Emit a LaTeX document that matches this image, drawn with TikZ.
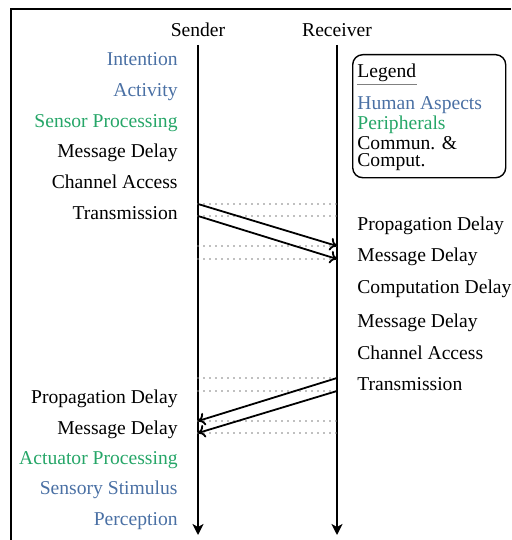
\documentclass[tikz,border=0pt]{standalone}
\usepackage{fontspec}
\setmainfont{Liberation Serif}
\usetikzlibrary{arrows.meta}
\definecolor{human}{RGB}{74,112,164}
\definecolor{periph}{RGB}{38,166,104}
\begin{document}
\begin{tikzpicture}[x=0.5pt,y=-0.5pt,
  every node/.style={font=\fontsize{9.8}{11.8}\selectfont, inner sep=0pt},
  lbl/.style={anchor=base east},
  rlbl/.style={anchor=base west},
  head/.style={anchor=base},
  life/.style={line width=1pt,-{Stealth[length=5.5pt,width=5.5pt,inset=1.5pt]}},
  msg/.style={line width=0.9pt,-{To[length=3.5pt,width=6.5pt]}},
  guide/.style={black!50,line width=0.9pt,line cap=round,dash pattern=on 0pt off 3pt},
  frame/.style={line width=0.7pt},
  legendbox/.style={draw,rounded corners=5pt,line width=0.7pt,anchor=north west,
    minimum width=76.5pt,minimum height=61.5pt},
]
\useasboundingbox (0,0) rectangle (511,540);
\draw[frame] (511,9) -- (11,9) -- (11,540);

% lifeline headers
\node[head] (sender) at (198,37) {Sender};
\node[head] (receiver) at (337,37) {Receiver};

% lifelines
\coordinate (s0) at (198,45);
\coordinate (s1) at (198,535);
\coordinate (r0) at (337,45);
\coordinate (r1) at (337,535);
\draw[life] (s0) -- (s1);
\draw[life] (r0) -- (r1);

% sender -> receiver
\coordinate (sa) at (198,204);
\coordinate (sb) at (198,216);
\coordinate (ra) at (337,246);
\coordinate (rb) at (337,259);
% receiver -> sender
\coordinate (rc) at (337,378);
\coordinate (rd) at (337,391);
\coordinate (sc) at (198,421);
\coordinate (sd) at (198,433);

% time marks between the lifelines
\foreach \p in {sa,sb,sc,sd} \draw[guide] (\p) -- (\p -| r0);
\foreach \p in {ra,rb,rc,rd} \draw[guide] (\p -| s0) -- (\p);

\draw[msg] (sa) -- (ra);
\draw[msg] (sb) -- (rb);
\draw[msg] (rc) -- (sc);
\draw[msg] (rd) -- (sd);

% sender side, upper
\node[lbl,text=human] (l1) at (178,66) {Intention};
\node[lbl,text=human] (l2) at (178,97) {Activity};
\node[lbl,text=periph] (l3) at (178,127) {Sensor Processing};
\node[lbl] (l4) at (178,157) {Message Delay};
\node[lbl] (l5) at (178,188) {Channel Access};
\node[lbl] (l6) at (178,219) {Transmission};

% receiver side
\node[rlbl] (m1) at (357,230) {Propagation Delay};
\node[rlbl] (m2) at (357,261) {Message Delay};
\node[rlbl] (m3) at (357,293) {Computation Delay};
\node[rlbl] (m4) at (357,327) {Message Delay};
\node[rlbl] (m5) at (357,359) {Channel Access};
\node[rlbl] (m6) at (357,390) {Transmission};

% sender side, lower
\node[lbl] (n1) at (178,403) {Propagation Delay};
\node[lbl] (n2) at (178,434) {Message Delay};
\node[lbl,text=periph] (n3) at (178,464) {Actuator Processing};
\node[lbl,text=human] (n4) at (178,494) {Sensory Stimulus};
\node[lbl,text=human] (n5) at (178,525) {Perception};

% legend
\node[legendbox] (legend) at (352,54) {};
\node[rlbl] (lgtitle) at (357,77) {Legend};
\draw[gray,line width=0.6pt] ([yshift=-1.3pt]lgtitle.south west) -- ([yshift=-1.3pt]lgtitle.south east);
\node[rlbl,text=human] (lg1) at (357,110) {Human Aspects};
\node[rlbl,text=periph] (lg2) at (357,129) {Peripherals};
\node[rlbl] (lg3) at (357,149) {Commun. \&};
\node[rlbl] (lg4) at (357,166) {Comput.};
\end{tikzpicture}
\end{document}
